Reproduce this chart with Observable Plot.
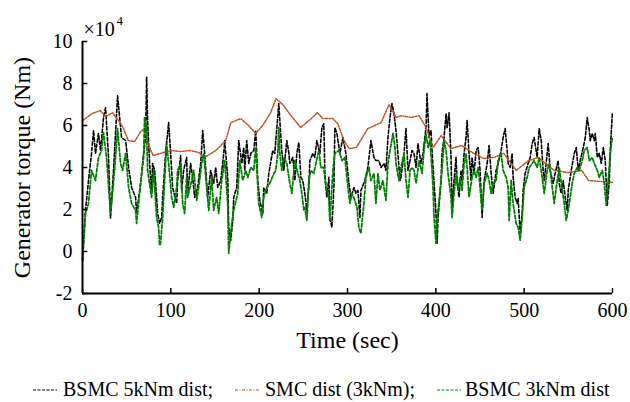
<!DOCTYPE html>
<html><head><meta charset="utf-8">
<script src="https://cdn.jsdelivr.net/npm/d3@7"></script>
<script src="https://cdn.jsdelivr.net/npm/@observablehq/plot@0.6"></script>
<style>
body{margin:0;background:#fff;font-family:"Liberation Serif",serif;}
#legend{width:630px;height:34px;}
svg text{font-family:"Liberation Serif",serif !important;}
</style>
</head><body>
<div id="chart"></div>
<div id="legend"></div>
<script>
const xTicks = [0, 100, 200, 300, 400, 500, 600];
const yTicks = [-2, 0, 2, 4, 6, 8, 10];
const seriesNames = ["BSMC 5kNm dist;", "SMC dist (3kNm);", "BSMC 3kNm dist"];
const seriesColors = ["#000000", "#c0501e", "#008000"];
const xLabel = "Time (sec)";
const yLabel = "Generator torque (Nm)";
const FONT = '"Liberation Serif", serif';

// time (s), torque (x10^4 Nm)
const bsmc5 = [[0,-0.42],[3.4,1.96],[6.8,3.38],[10.2,4.66],[12.5,5.76],[14.7,4.66],[18.1,5.62],[20.4,4.81],[23.8,6.38],[26.1,6.85],[29.5,4.48],[31.7,1.58],[35.1,3.86],[39.7,7.42],[44.2,5.43],[48.8,5.28],[52.2,4.0],[55.6,3.05],[60.1,2.58],[61.2,1.81],[65.8,3.24],[69.2,4.67],[71.4,5.43],[72.6,8.3],[73.7,6.24],[76.0,4.19],[78.2,2.76],[79.4,4.19],[81.6,3.86],[83.9,2.58],[85.0,1.81],[87.3,1.34],[89.6,1.62],[90.7,2.58],[94.1,4.67],[97.5,6.14],[99.8,4.67],[102.0,3.05],[106.6,2.29],[107.7,3.38],[111.1,4.57],[112.2,2.91],[114.5,3.86],[117.9,4.48],[119.0,2.77],[122.4,4.19],[124.7,3.52],[127.0,2.58],[130.4,3.05],[133.8,4.19],[136.1,5.76],[138.3,4.67],[140.6,3.24],[141.7,2.58],[145.1,3.86],[148.5,3.24],[150.8,4.0],[153.1,3.05],[156.5,3.38],[159.9,4.67],[161.0,5.28],[164.4,3.52],[165.5,1.15],[167.8,0.53],[170.1,1.48],[171.2,2.58],[174.6,3.05],[176.9,5.28],[180.3,4.19],[182.5,4.95],[183.7,3.86],[185.9,5.28],[188.2,4.19],[190.5,4.67],[193.9,4.81],[196.1,5.76],[198.4,3.38],[200.7,2.43],[204.1,1.81],[205.2,3.05],[208.6,2.77],[210.9,3.72],[215.4,4.81],[217.7,4.67],[220.0,5.9],[222.2,7.04],[223.4,6.24],[225.6,4.81],[227.9,3.86],[231.3,5.28],[233.6,4.67],[234.7,4.19],[238.1,4.48],[240.4,3.38],[242.6,4.67],[244.9,5.19],[247.2,3.53],[249.4,3.38],[251.7,2.77],[254.0,1.96],[256.2,3.05],[257.4,4.33],[260.8,4.67],[263.0,4.48],[265.3,5.28],[268.7,4.67],[271.0,5.9],[273.2,6.09],[274.4,3.72],[276.6,2.58],[278.9,3.53],[280.0,1.62],[282.3,1.15],[284.6,3.05],[285.7,5.9],[288.0,5.62],[291.4,4.67],[294.8,5.43],[298.2,4.67],[301.6,3.24],[303.9,2.58],[307.3,3.05],[309.5,2.77],[311.8,2.91],[314.1,1.62],[315.2,2.91],[319.7,3.38],[323.1,4.0],[326.5,5.28],[329.9,4.48],[332.2,4.33],[335.6,4.33],[337.9,4.0],[341.3,4.19],[343.5,3.86],[345.8,5.43],[348.1,6.38],[350.3,7.04],[352.6,6.57],[354.9,5.76],[357.1,4.67],[359.4,3.38],[360.5,3.53],[364.0,4.67],[366.2,5.85],[368.5,3.86],[370.8,4.33],[373.0,4.81],[375.3,4.67],[377.6,4.0],[379.8,5.14],[383.2,4.19],[385.5,4.67],[388.9,5.9],[390.0,7.52],[392.3,5.43],[394.6,5.76],[395.7,4.81],[398.0,3.24],[400.2,1.81],[401.4,0.39],[402.5,1.62],[405.9,3.38],[407.0,4.67],[409.3,5.43],[411.6,6.57],[412.7,5.9],[415.0,6.61],[417.2,4.48],[418.4,1.96],[420.6,3.38],[422.9,4.48],[424.0,3.38],[426.3,2.58],[428.6,3.86],[429.7,3.38],[432.0,4.67],[434.2,5.43],[435.4,6.24],[437.6,4.67],[439.9,3.38],[441.0,4.48],[443.3,3.72],[445.6,4.81],[447.9,4.95],[450.1,3.86],[452.4,1.62],[454.7,3.38],[458.1,4.19],[460.3,5.05],[462.6,3.72],[464.9,2.77],[468.3,3.86],[470.5,4.19],[473.9,4.81],[476.2,5.43],[478.5,5.85],[480.7,4.81],[481.9,4.19],[484.1,4.0],[486.4,4.67],[487.5,3.53],[489.8,2.58],[492.1,2.29],[493.2,2.53],[495.5,0.86],[497.7,1.81],[498.9,2.91],[501.1,3.72],[504.5,4.19],[506.8,4.48],[509.1,5.14],[511.3,5.43],[514.7,4.48],[517.0,5.85],[519.3,5.28],[521.5,3.86],[522.7,3.38],[524.9,4.19],[527.2,5.14],[529.5,3.86],[532.9,3.24],[535.1,3.72],[538.5,4.33],[539.7,3.24],[541.9,2.77],[544.2,3.38],[546.5,2.58],[548.8,1.96],[549.9,2.91],[553.3,3.86],[556.7,4.67],[559.0,4.95],[561.2,3.86],[563.5,4.33],[566.9,4.95],[569.2,5.43],[571.4,6.38],[573.7,5.76],[574.8,5.28],[577.1,5.62],[579.4,5.28],[580.5,5.62],[582.8,4.48],[585.0,4.67],[587.3,4.19],[589.6,4.95],[591.8,4.33],[594.1,2.19],[596.4,3.38],[597.5,4.81],[599.8,6.57]];

const smc3 = [[0,6.23],[11,6.57],[20,6.71],[26,6.42],[34,6.61],[41,6.23],[46,5.9],[52,5.28],[59,5.24],[66,5.71],[70,5.85],[75,5.05],[80,4.57],[88,4.67],[100,4.81],[111,4.76],[122,4.81],[132,4.71],[138,4.47],[151,4.81],[162,5.28],[168,6.14],[179,6.33],[188,6.0],[196,5.62],[204,6.0],[213,6.61],[219,7.28],[227,6.99],[236,6.47],[247,5.9],[259,6.33],[266,6.61],[272,6.33],[283,6.33],[289,6.09],[296,5.28],[302,4.9],[310,4.95],[323,5.85],[338,6.14],[347,6.99],[355,6.38],[361,6.47],[372,6.38],[381,6.47],[389,5.9],[397,4.95],[406,5.52],[417,4.9],[429,5.05],[443,4.67],[454,4.43],[466,4.48],[477,4.67],[491,3.86],[505,4.33],[516,4.48],[534,3.86],[550,3.76],[565,3.86],[573,3.38],[600,3.29]];

const bsmc3 = [[0,-0.42],[3.4,1.81],[6.8,2.29],[10.2,3.86],[14.7,3.38],[18.1,4.48],[21.5,4.81],[23.8,5.66],[27.2,4.48],[31.7,1.81],[32.9,2.29],[36.3,3.86],[39.7,5.85],[43.1,4.19],[45.4,3.86],[48.8,4.67],[52.2,3.05],[55.6,2.29],[60.1,1.96],[61.2,1.34],[65.8,3.24],[69.2,4.48],[70.3,6.38],[72.6,5.76],[73.7,3.86],[78.2,2.58],[80.5,3.86],[83.9,1.62],[86.2,1.15],[87.3,0.29],[88.4,0.39],[90.7,1.62],[95.2,5.14],[97.5,4.19],[100.9,2.58],[103.2,2.1],[106.6,3.05],[107.7,3.86],[111.1,4.19],[113.4,2.29],[115.6,1.81],[117.9,3.53],[119.0,2.58],[123.6,3.38],[125.9,3.86],[129.3,2.43],[131.5,3.05],[134.9,4.19],[137.2,4.67],[140.6,3.05],[142.9,1.96],[146.3,3.53],[148.5,1.96],[151.9,2.58],[154.2,1.81],[157.6,3.38],[161.0,4.33],[164.4,2.29],[165.5,-0.09],[168.9,1.34],[171.2,1.96],[175.7,2.77],[178.0,4.33],[181.4,3.38],[184.8,3.86],[187.1,3.53],[190.5,4.0],[193.9,3.86],[196.1,4.95],[199.5,2.29],[203.0,1.62],[205.2,2.58],[208.6,3.05],[212.0,3.24],[216.6,3.72],[218.8,3.86],[221.1,4.67],[222.2,5.9],[223.4,4.67],[225.6,3.86],[227.9,4.48],[231.3,4.19],[234.7,3.24],[237.0,2.77],[240.4,4.33],[243.8,3.72],[246.0,3.38],[248.3,2.77],[250.6,1.96],[251.7,2.1],[254.0,1.48],[256.2,3.38],[258.5,3.86],[261.9,3.72],[264.2,4.19],[267.6,4.81],[269.8,4.0],[273.2,4.0],[275.5,3.05],[278.9,2.58],[280.0,1.48],[283.5,3.86],[285.7,4.67],[290.3,4.81],[293.7,4.33],[297.0,4.48],[300.5,3.05],[302.7,2.29],[305.0,2.77],[308.4,2.43],[310.7,2.1],[312.9,1.15],[315.2,0.86],[318.6,2.29],[320.9,3.53],[324.3,4.0],[326.5,3.38],[329.9,3.72],[332.2,2.29],[334.5,3.72],[336.7,2.91],[340.1,3.38],[343.5,2.43],[345.8,4.19],[348.1,4.81],[351.5,5.62],[353.8,4.95],[354.9,4.19],[358.3,3.38],[360.5,4.0],[364.0,4.67],[366.2,3.38],[368.5,2.58],[370.8,3.86],[373.0,4.0],[375.3,3.86],[377.6,3.24],[381.0,4.33],[384.4,3.72],[386.6,4.81],[388.9,5.62],[391.2,4.95],[393.4,5.28],[395.7,3.86],[396.8,3.05],[398.0,1.62],[400.2,0.39],[401.4,1.48],[404.8,2.91],[407.0,3.86],[409.3,5.28],[411.6,4.81],[413.8,3.72],[417.2,2.58],[418.4,1.62],[420.6,2.77],[422.9,3.72],[425.2,2.91],[427.4,3.53],[429.7,2.91],[432.0,4.19],[434.2,4.67],[435.4,4.0],[437.6,2.58],[441.0,3.53],[443.3,3.86],[445.6,3.53],[447.9,4.0],[450.1,3.05],[452.4,1.96],[454.7,3.24],[458.1,3.72],[460.3,3.38],[462.6,2.77],[464.9,3.24],[468.3,3.38],[470.5,4.33],[473.9,4.67],[476.2,3.86],[479.6,3.53],[481.9,3.05],[483.0,1.48],[485.3,3.38],[487.5,2.29],[490.9,1.34],[493.2,1.15],[495.5,0.53],[497.7,1.62],[500.0,3.05],[503.4,3.53],[505.7,4.0],[509.1,4.19],[511.3,4.33],[514.7,4.0],[517.0,4.48],[520.4,3.53],[522.7,2.77],[526.1,3.86],[528.4,4.19],[531.8,3.05],[534.0,2.29],[537.4,3.38],[539.7,4.0],[543.1,2.91],[545.4,2.29],[547.6,1.48],[549.9,1.96],[554.4,3.24],[556.7,3.72],[560.1,4.0],[562.4,3.86],[565.8,4.33],[568.0,4.81],[571.4,4.95],[573.7,4.33],[577.1,4.48],[579.4,4.19],[582.8,3.86],[585.0,3.53],[588.5,3.86],[590.7,3.24],[593.0,2.19],[595.2,3.38],[597.5,4.67],[599.8,5.43]];

const lineStyles = [
  {data: bsmc5, width: 1.6, dash: "3.5,2"},
  {data: smc3, width: 1.5, dash: "2.5,1.5,1,1.5"},
  {data: bsmc3, width: 1.8, dash: "3.5,2"}
];

const plot = Plot.plot({
  width: 630, height: 368,
  marginLeft: 82, marginRight: 18, marginTop: 41, marginBottom: 75,
  style: {fontFamily: FONT, fontSize: "20px", color: "#000", background: "#fff"},
  x: {domain: [0, 600]},
  y: {domain: [-2, 10]},
  marks: [
    Plot.axisX(xTicks, {tickSize: 0, tickPadding: 9, fontSize: 20, fontFamily: FONT, label: null}),
    Plot.axisY(yTicks, {tickSize: 0, tickPadding: 10, fontSize: 20, fontFamily: FONT, label: null, tickFormat: d => String(d)}),
    ...lineStyles.map((s, i) => Plot.line(s.data, {x: d => d[0], y: d => d[1], stroke: seriesColors[i], strokeWidth: s.width, strokeDasharray: s.dash})),
    Plot.ruleX([0], {strokeWidth: 2}),
    Plot.ruleY([-2], {strokeWidth: 2}),
    Plot.ruleX(xTicks, {x: d => d, y1: -2, y2: -1.76, strokeWidth: 1.5}),
    Plot.ruleY(yTicks, {y: d => d, x1: 0, x2: 6, strokeWidth: 1.5}),
    Plot.text([yLabel], {text: d => d, frameAnchor: "left", textAnchor: "middle", dx: -60, rotate: -90, fontSize: 24, fontFamily: FONT}),
    Plot.text([xLabel], {text: d => d, frameAnchor: "bottom", textAnchor: "middle", dy: 54, fontSize: 24, fontFamily: FONT}),
    Plot.text(["×10"], {text: d => d, frameAnchor: "top-left", textAnchor: "start", dx: 1, dy: -20, fontSize: 20, fontFamily: FONT}),
    Plot.text(["4"], {text: d => d, frameAnchor: "top-left", textAnchor: "start", dx: 34, dy: -26, fontSize: 13, fontFamily: FONT})
  ]
});
document.getElementById("chart").appendChild(plot);

// legend
const legendX = [[33, 63], [235, 265], [437, 465]];
const lsvg = d3.select("#legend").append("svg").attr("width", 630).attr("height", 34)
  .style("font-family", FONT).style("font-size", "20px");
seriesNames.forEach((name, i) => {
  const [sx, tx] = legendX[i];
  lsvg.append("line").attr("x1", sx).attr("x2", sx + 24).attr("y1", 22).attr("y2", 22)
    .attr("stroke", seriesColors[i]).attr("stroke-width", 1)
    .attr("stroke-dasharray", i === 1 ? "3,1.5,1,1.5" : "3,1.5");
  lsvg.append("text").attr("x", tx).attr("y", 28).attr("fill", "#000").text(name);
});
</script>
</body></html>
